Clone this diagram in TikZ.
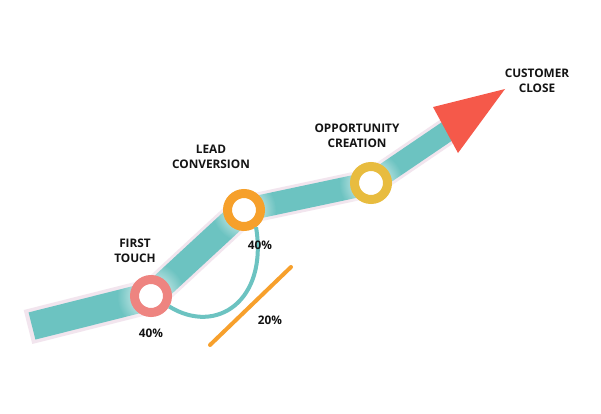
\documentclass[tikz,border=0pt]{standalone}
\usepackage{fontspec}
\setmainfont{Open Sans}
\usetikzlibrary{fadings}
\definecolor{teal1}{HTML}{6CC3C1}
\definecolor{lav}{HTML}{F2E5EE}
\definecolor{ringA}{HTML}{EE8480}
\definecolor{ringB}{HTML}{F6A02B}
\definecolor{ringC}{HTML}{E8BC3F}
\definecolor{headc}{HTML}{F5594A}
\definecolor{orng}{HTML}{F7A02C}
\tikzfading[name=glowfade, inner color=transparent!0, outer color=transparent!100]
\tikzset{
  ring/.style={circle, draw=#1, line width=9pt, fill=white, minimum size=33pt, inner sep=0pt},
  lbl/.style={font=\fontsize{11.8}{15.5}\selectfont\bfseries, align=center, text=black!92},
  band/.style={line width=#1, teal1, line cap=butt},
  bandshadow/.style={line width=#1, lav, line cap=butt},
  glow/.style={white, path fading=glowfade}
}
\begin{document}
\begin{tikzpicture}[x=1pt,y=-1pt]
\useasboundingbox[fill=white] (0,0) rectangle (601,414);
\coordinate (st) at (32,326);
\coordinate (st0) at (28,327);
\coordinate (p1) at (151,296);
\coordinate (p2) at (244,210);
\coordinate (p3) at (371,183);
\coordinate (ab) at (452,128);
\coordinate (h1) at (433,107);
\coordinate (h2) at (505,89);
\coordinate (h3) at (458,153);
% band shadow
\draw[bandshadow=35pt] (st0) -- (p1);
\draw[bandshadow=31pt] (p1) -- (p2);
\draw[bandshadow=29pt] (p2) -- (p3);
\draw[bandshadow=27pt] (p3) -- (ab);
% band
\draw[band=28pt] (st) -- (p1);
\draw[band=25pt] (p1) -- (p2);
\draw[band=23pt] (p2) -- (p3);
\draw[band=21pt] (p3) -- (ab);
% glows
\fill[glow] (p1) circle (34);
\fill[glow] (p2) circle (32);
\fill[glow] (p3) circle (32);
% arrow head
\fill[headc] (h1) -- (h2) -- (h3) -- cycle;
% rings
\node[ring=ringA] (ft) at (p1) {};
\node[ring=ringB] (lc) at (p2) {};
\node[ring=ringC] (oc) at (p3) {};
% arc
\draw[teal1, line width=4pt] (lc.-55) .. controls (268,300) and (217,336) .. (ft.-30);
% orange line
\coordinate (o1) at (210,345);
\coordinate (o2) at (291,267);
\draw[orng, line width=4pt, line cap=round] (o1) -- (o2);
% labels
\node[lbl] (lft) at (135,251) {FIRST\\TOUCH};
\node[lbl] (lft2) at (151,333) {40\%};
\node[lbl] (llc) at (211,157) {LEAD\\CONVERSION};
\node[lbl] (llc2) at (260,245) {40\%};
\node[lbl] (loc) at (357,136) {OPPORTUNITY\\CREATION};
\node[lbl] (lcc) at (537,81) {CUSTOMER\\CLOSE};
\node[lbl] (l20) at (270,320) {20\%};
\end{tikzpicture}
\end{document}
